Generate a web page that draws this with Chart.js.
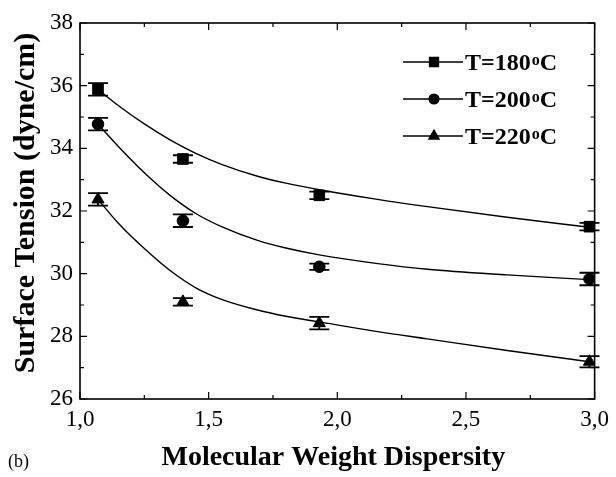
<!DOCTYPE html>
<html><head><meta charset="utf-8">
<script src="https://cdn.jsdelivr.net/npm/chart.js@4"></script>
<style>html,body{margin:0;padding:0;background:#fff}#wrap{width:616px;height:477px}</style>
</head><body><div id="wrap"><canvas id="c" width="616" height="477"></canvas></div>
<script>
// ---- data ----
const dispersity = [1.07, 1.40, 1.93, 2.98];
const tension180 = [35.88, 33.66, 32.50, 31.50];
const error180 = [0.20, 0.12, 0.12, 0.12];
const tension200 = [34.77, 31.69, 30.22, 29.83];
const error200 = [0.20, 0.20, 0.10, 0.20];
const tension220 = [32.37, 29.10, 28.42, 27.19];
const error220 = [0.20, 0.12, 0.20, 0.18];
// fitted curves
const fitX = [1.07, 1.15, 1.25, 1.35, 1.45, 1.55, 1.69, 1.80, 1.93, 2.15, 2.35, 2.66, 2.98];
const fit180 = [35.88, 35.36, 34.78, 34.27, 33.84, 33.49, 33.11, 32.89, 32.68, 32.38, 32.14, 31.80, 31.48];
const fit200 = [34.77, 34.05, 33.22, 32.50, 31.92, 31.50, 31.06, 30.82, 30.60, 30.33, 30.14, 29.96, 29.81];
const fit220 = [32.37, 31.60, 30.80, 30.10, 29.55, 29.18, 28.84, 28.64, 28.46, 28.16, 27.92, 27.55, 27.19];
const seriesLabels = ['T=180', 'T=200', 'T=220'];
const xTickValues = [1.0, 1.5, 2.0, 2.5, 3.0];
const xTickLabels = ['1,0', '1,5', '2,0', '2,5', '3,0'];
const yTickValues = [26, 28, 30, 32, 34, 36, 38];
const xTitle = 'Molecular Weight Dispersity';
const yTitle = 'Surface Tension (dyne/cm)';
const panelLabel = '(b)';

const SERIF = '"Liberation Serif", "Times New Roman", serif';
const pts = (xs, ys) => xs.map((x, i) => ({x, y: ys[i]}));

const fitDs = (ys) => ({
  data: pts(fitX, ys), showLine: true, pointRadius: 0, borderColor: '#000',
  borderWidth: 1.4, cubicInterpolationMode: 'monotone', fill: false, order: 2
});
const markDs = (label, ys, errs, style, r) => ({
  label, data: pts(dispersity, ys), errors: errs, showLine: false, pointStyle: style,
  pointRadius: r, pointBackgroundColor: '#000', pointBorderColor: '#000', pointBorderWidth: 1, order: 1
});

const datasets = [
  fitDs(fit180), fitDs(fit200), fitDs(fit220),
  markDs(seriesLabels[0], tension180, error180, 'rect', 7.5),
  markDs(seriesLabels[1], tension200, error200, 'circle', 5.8),
  markDs(seriesLabels[2], tension220, error220, 'triangle', 7)
];

const decor = {
  id: 'decor',
  beforeDatasetsDraw(chart) {
    const ctx = chart.ctx, xs = chart.scales.x, ys = chart.scales.y;
    ctx.save();
    ctx.strokeStyle = '#000'; ctx.lineWidth = 1.8;
    chart.data.datasets.forEach(ds => {
      if (!ds.errors) return;
      ds.data.forEach((p, i) => {
        const px = xs.getPixelForValue(p.x);
        const top = ys.getPixelForValue(p.y + ds.errors[i]);
        const bot = ys.getPixelForValue(p.y - ds.errors[i]);
        ctx.beginPath();
        ctx.moveTo(px, top); ctx.lineTo(px, bot);
        ctx.moveTo(px - 10, top); ctx.lineTo(px + 10, top);
        ctx.moveTo(px - 10, bot); ctx.lineTo(px + 10, bot);
        ctx.stroke();
      });
    });
    ctx.restore();
  },
  afterDraw(chart) {
    const ctx = chart.ctx, a = chart.chartArea, xs = chart.scales.x, ys = chart.scales.y;
    ctx.save();
    ctx.strokeStyle = '#000'; ctx.lineWidth = 1.6;
    ctx.strokeRect(a.left, a.top, a.right - a.left, a.bottom - a.top);
    ctx.lineWidth = 1.2;
    ctx.beginPath();
    for (let v = 1; v <= 3.0001; v += 0.25) {
      const px = xs.getPixelForValue(v);
      const len = Math.abs(v * 2 - Math.round(v * 2)) < 1e-6 ? 7 : 4;
      ctx.moveTo(px, a.bottom); ctx.lineTo(px, a.bottom - len);
      ctx.moveTo(px, a.top); ctx.lineTo(px, a.top + len);
    }
    for (let v = 26; v <= 38; v += 1) {
      const py = ys.getPixelForValue(v);
      const len = v % 2 === 0 ? 7 : 4;
      ctx.moveTo(a.left, py); ctx.lineTo(a.left + len, py);
      ctx.moveTo(a.right, py); ctx.lineTo(a.right - len, py);
    }
    ctx.stroke();

    // legend
    const markers = chart.data.datasets.filter(d => d.errors);
    const rowY = [62, 99, 136];
    markers.forEach((ds, i) => {
      const y = rowY[i];
      ctx.lineWidth = 1.3;
      ctx.beginPath(); ctx.moveTo(403, y); ctx.lineTo(463, y); ctx.stroke();
      Chart.helpers.drawPoint(ctx, {pointStyle: ds.pointStyle, radius: ds.pointRadius * 0.85, borderWidth: 1}, 434, y);
      ctx.fillStyle = '#000';
      ctx.fill();
      ctx.textBaseline = 'alphabetic'; ctx.textAlign = 'left';
      ctx.font = 'bold 24px ' + SERIF;
      const t = ds.label;
      ctx.fillText(t, 465, y + 8);
      let w = ctx.measureText(t).width;
      ctx.font = 'bold 16px ' + SERIF;
      ctx.fillText('o', 465 + w + 1, y + 3);
      w += ctx.measureText('o').width + 1;
      ctx.font = 'bold 24px ' + SERIF;
      ctx.fillText('C', 465 + w, y + 8);
    });

    // axis titles and panel label
    ctx.fillStyle = '#000';
    ctx.font = 'bold 28px ' + SERIF;
    ctx.textAlign = 'center'; ctx.textBaseline = 'middle';
    ctx.fillText(xTitle, (a.left + a.right) / 2 - 4, 458);
    ctx.save();
    ctx.font = 'bold 30px ' + SERIF;
    ctx.translate(26, 203);
    ctx.rotate(-Math.PI / 2);
    ctx.fillText(yTitle, 0, 0);
    ctx.restore();
    ctx.font = '18px ' + SERIF;
    ctx.textAlign = 'left';
    ctx.fillText(panelLabel, 8, 462);
    ctx.restore();
  }
};

new Chart(document.getElementById('c'), {
  type: 'scatter',
  data: { datasets },
  options: {
    responsive: false, animation: false, devicePixelRatio: 1,
    layout: { padding: { left: 0, top: 23, right: 17, bottom: 0 } },
    plugins: { legend: { display: false }, tooltip: { enabled: false } },
    scales: {
      x: {
        type: 'linear', min: 1, max: 3,
        afterBuildTicks: s => { s.ticks = xTickValues.map(v => ({ value: v })); },
        afterFit: s => { s.height = 78; },
        grid: { display: false, drawTicks: false },
        border: { display: false },
        ticks: {
          padding: 7, color: '#000', maxRotation: 0,
          font: { family: SERIF, size: 23 },
          callback: (v) => xTickLabels[xTickValues.findIndex(t => Math.abs(t - v) < 1e-6)]
        }
      },
      y: {
        type: 'linear', min: 26, max: 38,
        afterBuildTicks: s => { s.ticks = yTickValues.map(v => ({ value: v })); },
        afterFit: s => { s.width = 80; },
        grid: { display: false, drawTicks: false },
        border: { display: false },
        ticks: { padding: 7, color: '#000', font: { family: SERIF, size: 23 }, callback: v => String(v) }
      }
    }
  },
  plugins: [decor]
});
</script></body></html>
